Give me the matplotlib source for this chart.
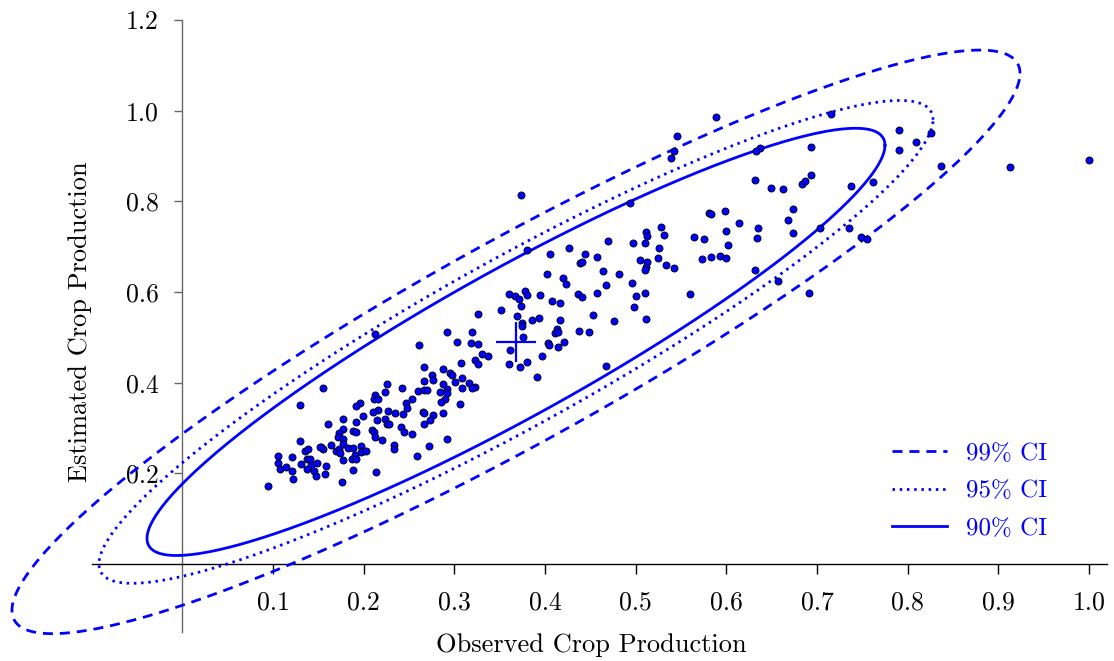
import numpy as np
import matplotlib
matplotlib.use("Agg")
import matplotlib.pyplot as plt

plt.rcParams['font.family'] = ['cmr10', 'DejaVu Serif']
plt.rcParams['axes.formatter.use_mathtext'] = True
plt.rcParams['mathtext.fontset'] = 'cm'

# observed / estimated crop production
observed = [
    0.155, 0.130, 0.161, 0.130, 0.106, 0.121, 0.106, 0.108, 0.114, 0.121, 0.122, 0.095,
    0.135, 0.139, 0.131, 0.137, 0.141, 0.142, 0.148, 0.137, 0.145, 0.147, 0.153, 0.155,
    0.158, 0.157, 0.164,
    0.326, 0.292, 0.320, 0.303, 0.318, 0.326, 0.261, 0.212, 0.307, 0.323, 0.326, 0.267,
    0.287, 0.275, 0.295, 0.297, 0.276, 0.267, 0.309, 0.301, 0.316, 0.323, 0.320, 0.308,
    0.287, 0.292, 0.284, 0.292, 0.260, 0.267, 0.270, 0.242, 0.226, 0.224, 0.212, 0.211,
    0.216, 0.196, 0.192, 0.253, 0.247, 0.248, 0.290, 0.285, 0.306, 0.216, 0.210, 0.227,
    0.235, 0.243, 0.199, 0.177, 0.192, 0.215, 0.224, 0.226, 0.228, 0.265, 0.267, 0.276,
    0.287, 0.273, 0.267, 0.177, 0.173, 0.188, 0.192, 0.209, 0.211, 0.241, 0.244, 0.253,
    0.213, 0.220, 0.172, 0.292,
    0.177, 0.177, 0.152, 0.170, 0.173, 0.174, 0.183, 0.188, 0.197, 0.199, 0.197, 0.203,
    0.191, 0.187, 0.192, 0.177, 0.188, 0.214, 0.176, 0.234, 0.234, 0.259, 0.272,
    0.374, 0.380, 0.406, 0.426, 0.444, 0.439, 0.441, 0.457, 0.469, 0.464, 0.482, 0.402,
    0.420, 0.423, 0.467, 0.457, 0.436, 0.441, 0.378, 0.380, 0.360, 0.367, 0.371, 0.373,
    0.394, 0.408, 0.417, 0.351, 0.369, 0.375, 0.375, 0.386, 0.393, 0.417, 0.413, 0.411,
    0.414, 0.453, 0.476, 0.437, 0.449, 0.376, 0.403, 0.404, 0.421, 0.414, 0.397, 0.361,
    0.330, 0.337, 0.380, 0.372, 0.360, 0.391, 0.467, 0.496, 0.500, 0.510, 0.498, 0.511,
    0.539, 0.542, 0.494, 0.632, 0.649, 0.581, 0.583, 0.599, 0.614, 0.600, 0.635, 0.634,
    0.564, 0.575, 0.602, 0.573, 0.583, 0.593, 0.600, 0.632, 0.657, 0.560, 0.511, 0.512,
    0.528, 0.531, 0.510, 0.497, 0.526, 0.525, 0.505, 0.512, 0.511, 0.510, 0.533, 0.542,
    0.589, 0.546, 0.716, 0.790, 0.790, 0.693, 0.637, 0.633, 0.662, 0.683, 0.687, 0.693,
    0.738, 0.762, 0.674, 0.668, 0.674, 0.703, 0.735, 0.748, 0.755, 0.691,
    0.809, 0.826, 0.837, 0.913, 1.000,
]
estimated = [
    0.389, 0.351, 0.309, 0.272, 0.238, 0.236, 0.223, 0.210, 0.214, 0.205, 0.188, 0.172,
    0.249, 0.254, 0.221, 0.232, 0.232, 0.219, 0.223, 0.210, 0.205, 0.194, 0.258, 0.254,
    0.216, 0.199, 0.263,
    0.552, 0.512, 0.512, 0.490, 0.488, 0.486, 0.483, 0.508, 0.444, 0.450, 0.441, 0.435,
    0.430, 0.417, 0.421, 0.417, 0.406, 0.404, 0.411, 0.401, 0.400, 0.391, 0.388, 0.389,
    0.397, 0.386, 0.380, 0.377, 0.382, 0.384, 0.384, 0.389, 0.397, 0.380, 0.373, 0.364,
    0.364, 0.355, 0.349, 0.364, 0.355, 0.344, 0.364, 0.357, 0.353, 0.340, 0.336, 0.338,
    0.333, 0.331, 0.327, 0.320, 0.313, 0.318, 0.320, 0.309, 0.309, 0.336, 0.334, 0.329,
    0.334, 0.318, 0.309, 0.298, 0.289, 0.294, 0.291, 0.296, 0.291, 0.302, 0.291, 0.287,
    0.280, 0.274, 0.280, 0.276,
    0.276, 0.265, 0.258, 0.249, 0.254, 0.245, 0.256, 0.256, 0.260, 0.249, 0.247, 0.249,
    0.240, 0.232, 0.232, 0.230, 0.207, 0.203, 0.181, 0.263, 0.254, 0.238, 0.260,
    0.815, 0.693, 0.684, 0.698, 0.684, 0.664, 0.667, 0.678, 0.713, 0.647, 0.640, 0.640,
    0.631, 0.618, 0.616, 0.598, 0.596, 0.589, 0.603, 0.594, 0.596, 0.592, 0.585, 0.570,
    0.594, 0.581, 0.576, 0.561, 0.547, 0.532, 0.525, 0.539, 0.543, 0.539, 0.519, 0.510,
    0.512, 0.550, 0.536, 0.514, 0.512, 0.501, 0.488, 0.483, 0.490, 0.479, 0.459, 0.472,
    0.464, 0.459, 0.446, 0.435, 0.441, 0.413, 0.437, 0.620, 0.592, 0.598, 0.567, 0.541,
    0.896, 0.912, 0.797, 0.848, 0.830, 0.775, 0.773, 0.779, 0.753, 0.735, 0.742, 0.720,
    0.722, 0.717, 0.704, 0.673, 0.678, 0.680, 0.676, 0.649, 0.625, 0.596, 0.733, 0.724,
    0.744, 0.726, 0.709, 0.709, 0.698, 0.676, 0.671, 0.667, 0.656, 0.649, 0.660, 0.653,
    0.987, 0.945, 0.993, 0.958, 0.914, 0.921, 0.918, 0.910, 0.828, 0.839, 0.845, 0.859,
    0.834, 0.843, 0.784, 0.759, 0.731, 0.742, 0.742, 0.722, 0.717, 0.598,
    0.932, 0.951, 0.879, 0.876, 0.892,
]

# ellipse parameters
center = [0.368, 0.49]
sd_x, sd_y, rho = 0.19, 0.22, 0.92
ci_labels = ["99% CI", "95% CI", "90% CI"]
ci_scale = [2.926, 2.421, 2.142]
ci_style = [(0, (3.6, 2.5)), (0, (0.9, 1.7)), "-"]

xticks = [0.1, 0.2, 0.3, 0.4, 0.5, 0.6, 0.7, 0.8, 0.9, 1.0]
yticks = [0.2, 0.4, 0.6, 0.8, 1.0, 1.2]

blue = "#0000ff"

fig = plt.figure(figsize=(11.14, 6.61), dpi=100)
ax = fig.add_axes([0, 0, 1, 1])
ax.set_xlim(-0.2011, 1.0276)
ax.set_ylim(-0.214, 1.2442)

cov = np.array([[sd_x**2, rho*sd_x*sd_y], [rho*sd_x*sd_y, sd_y**2]])
L = np.linalg.cholesky(cov)
t = np.linspace(0, 2*np.pi, 500)
circle = np.vstack([np.cos(t), np.sin(t)])
for lab, k, ls in zip(ci_labels, ci_scale, ci_style):
    pts = k * (L @ circle)
    ax.plot(center[0] + pts[0], center[1] + pts[1], color=blue, lw=2.0,
            linestyle=ls, label=lab, dash_capstyle='butt', zorder=3)

ax.scatter(observed, estimated, s=26, c=blue, edgecolors='black', linewidths=0.6, zorder=4)
ax.plot(center[0], center[1], marker='+', ms=29, mew=1.6, color=blue, zorder=5)

for s in ['top', 'right']:
    ax.spines[s].set_visible(False)
ax.spines['left'].set_position(('data', 0))
ax.spines['bottom'].set_position(('data', 0))
ax.spines['left'].set_bounds(-0.15, 1.2)
ax.spines['bottom'].set_bounds(-0.1, 1.02)
ax.spines['left'].set_color('#666666')
ax.spines['left'].set_linewidth(1.0)
ax.spines['bottom'].set_linewidth(1.0)

ax.set_xticks(xticks)
ax.set_xticklabels([f"{v:.1f}" for v in xticks])
ax.set_yticks(yticks)
ax.set_yticklabels([f"{v:.1f}" for v in yticks])
ax.tick_params(axis='x', direction='out', length=7, width=1, pad=12, labelsize=18.5)
ax.tick_params(axis='y', direction='out', length=6, width=1, pad=11, labelsize=18.5,
               color='#666666')

fig.text(591/1114, 1 - 645/661, "Observed Crop Production", ha='center', va='center',
         fontsize=19)
fig.text(80/1114, 1 - 322/661, "Estimated Crop Production", ha='center', va='center',
         rotation=90, fontsize=19)

leg = ax.legend(loc='upper left', bbox_to_anchor=(879/1114, 1 - 430/661),
                bbox_transform=fig.transFigure, frameon=False, fontsize=18,
                borderpad=0, handlelength=2.2, handletextpad=0.8, labelspacing=0.6)
for txt in leg.get_texts():
    txt.set_color(blue)

fig.savefig("out.png", dpi=100)
